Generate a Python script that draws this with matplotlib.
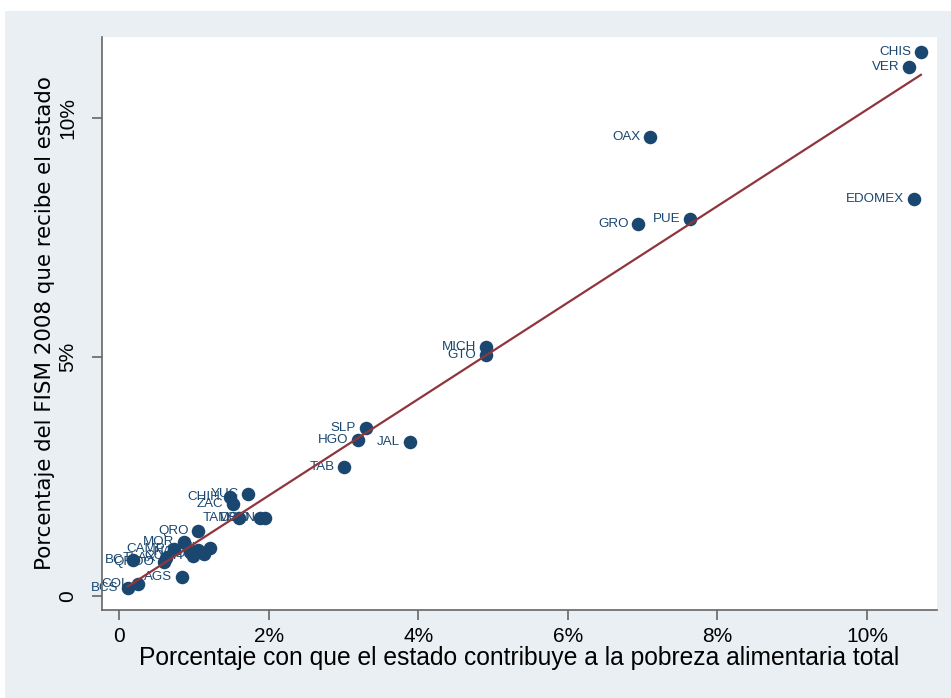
import numpy as np
import matplotlib
matplotlib.use("Agg")
import matplotlib.pyplot as plt
from matplotlib.patches import Rectangle

states = ["CHIS", "VER", "OAX", "EDOMEX", "PUE", "GRO", "MICH", "GTO", "SLP", "HGO",
          "JAL", "TAB", "YUC", "CHIH", "ZAC", "TAM", "DGO", "SON", "QRO", "MOR",
          "CAMP", "NAY", "DF", "NL", "SIN", "COAH", "TLAX", "QROO", "BC", "COL",
          "BCS", "AGS"]
pobreza = [10.72, 10.56, 7.10, 10.63, 7.63, 6.94, 4.91, 4.91, 3.30, 3.20,
           3.89, 3.01, 1.73, 1.49, 1.53, 1.61, 1.88, 1.95, 1.06, 0.87,
           0.74, 0.95, 1.13, 1.21, 1.06, 0.99, 0.63, 0.60, 0.19, 0.26,
           0.12, 0.84]
fism = [11.38, 11.07, 9.60, 8.31, 7.89, 7.78, 5.21, 5.04, 3.51, 3.26,
        3.22, 2.70, 2.13, 2.07, 1.92, 1.63, 1.63, 1.63, 1.36, 1.13,
        0.99, 0.92, 0.88, 1.00, 0.96, 0.84, 0.80, 0.71, 0.75, 0.25,
        0.17, 0.40]
xticks = [0, 2, 4, 6, 8, 10]
xticklabels = ["0", "2%", "4%", "6%", "8%", "10%"]
yticks = [0, 5, 10]
yticklabels = ["0", "5%", "10%"]

navy = "#1a476f"
maroon = "#90353b"
bg = "#e9eff3"
narrow = ["Liberation Sans Narrow", "Liberation Sans", "DejaVu Sans"]

W, H = 951, 698
fig = plt.figure(figsize=(W / 100, H / 100), dpi=100)
fig.patch.set_facecolor("white")
fig.patches.append(Rectangle((5 / W, 0), 1 - 5 / W, 1 - 11 / H, transform=fig.transFigure,
                             facecolor=bg, edgecolor="none", zorder=-10))

left, right, top, bottom = 102, 937, 37, 610
ax = fig.add_axes([left / W, 1 - bottom / H, (right - left) / W, (bottom - top) / H])
ax.set_facecolor("white")

x = np.array(pobreza)
y = np.array(fism)
ax.scatter(x, y, s=95, color=navy, zorder=3, linewidths=0)
b, a = np.polyfit(x, y, 1)
xs = np.array([x.min(), x.max()])
ax.plot(xs, a + b * xs, color=maroon, lw=1.6, zorder=4)

for s, xi, yi in zip(states, x, y):
    ax.annotate(s, (xi, yi), xytext=(-7, 0), textcoords="offset points",
                ha="right", va="center", fontsize=9.6, color=navy,
                family=narrow, zorder=2)

x0, xs_per = 119, 74.8
ax.set_xlim((left - x0) / xs_per, (right - x0) / xs_per)
y0, ys_per = 596, 47.8
ax.set_ylim((y0 - bottom) / ys_per, (y0 - top) / ys_per)

for sp in ["top", "right"]:
    ax.spines[sp].set_visible(False)
for sp in ["left", "bottom"]:
    ax.spines[sp].set_color("#666666")
    ax.spines[sp].set_linewidth(1.2)

ax.set_xticks(xticks)
ax.set_xticklabels(xticklabels, fontsize=15, family=narrow)
ax.set_yticks(yticks)
ax.set_yticklabels(yticklabels, fontsize=15, family=narrow, rotation=90, va="center")
ax.tick_params(axis="both", length=7, width=1.2, color="#666666")
ax.tick_params(axis="x", pad=5)
ax.tick_params(axis="y", pad=11)

ax.set_xlabel("Porcentaje con que el estado contribuye a la pobreza alimentaria total",
              fontsize=17.7, family=narrow, labelpad=0)
ax.set_ylabel("Porcentaje del FISM 2008 que recibe el estado", fontsize=15.4,
              family=["DejaVu Sans"], labelpad=2)

fig.savefig("out.png", dpi=100, facecolor=fig.get_facecolor())
